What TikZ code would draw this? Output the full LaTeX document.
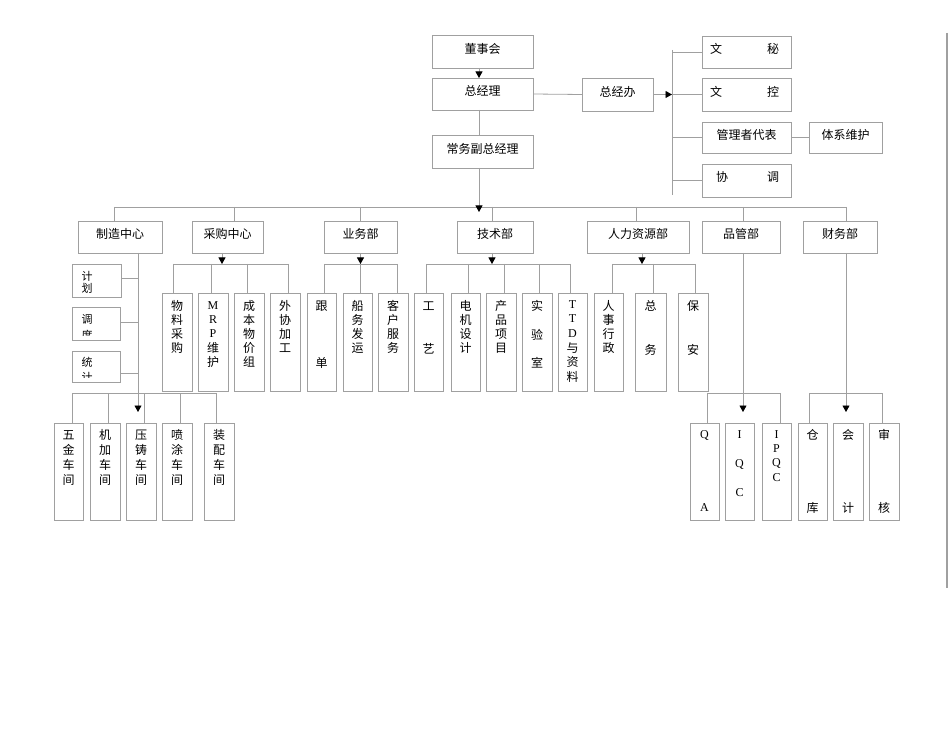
\documentclass[tikz,border=0pt]{standalone}
\usepackage{fontspec}
\setmainfont{Liberation Serif}
\newfontfamily\cjk{Noto Sans CJK SC}
\usetikzlibrary{arrows.meta}
\definecolor{ln}{RGB}{160,160,160}
\newcommand\mkbox[5]{\node[box,minimum width={#4-#2},minimum height={#5-#3}] (#1) at ({(#2+#4)/2},{(#3+#5)/2}) {};}
\newcommand\mkboxl[6]{\mkbox{#1}{#2}{#3}{#4}{#5}\node[lbl] (#1-t) at ([yshift=3pt]#1.center) {#6};}
\newcommand\chs[3]{\foreach \yy/\chr [count=\cI] in {#3} {\node[ch] (#1-c\cI) at (#2,\yy) {\chr};}}
\newcommand\drop[3]{\coordinate (d-#1) at (#2,#3); \draw[conn] (d-#1) -- (d-#1 |- #1.north);}
\begin{document}
\begin{tikzpicture}[x=1pt,y=-1pt,
 box/.style={draw=ln,line width=0.8pt,inner sep=0pt,outer sep=0pt},
 lbl/.style={font=\cjk\fontsize{12}{14}\selectfont,inner sep=0pt},
 ch/.style={font=\cjk\fontsize{12}{12}\selectfont,inner sep=0pt},
 sch/.style={font=\cjk\fontsize{11}{11}\selectfont,inner sep=0pt},
 conn/.style={draw=ln,line width=0.8pt},
 arr/.style={conn,-{Triangle[width=7pt,length=6.5pt,black]}},
]
\path[fill=white] (0,0) rectangle (950,735);
\useasboundingbox (0,0) rectangle (950,735);

% ---- top level
\mkboxl{dsh}{432}{35}{533}{68}{董事会}
\mkboxl{zjl}{432}{78}{533}{110}{总经理}
\mkboxl{cwf}{432}{135}{533}{168}{常务副总经理}
\mkboxl{zjb}{582}{78}{653}{111}{总经办}
\mkbox{wm}{702}{36}{791}{68}
\node[ch] (wm-a) at (716,49) {文}; \node[ch] (wm-b) at (773,49) {秘};
\mkbox{wk}{702}{78}{791}{111}
\node[ch] (wk-a) at (716,92) {文}; \node[ch] (wk-b) at (773,92) {控};
\mkboxl{gld}{702}{122}{791}{153}{管理者代表}
\mkboxl{txw}{809}{122}{882}{153}{体系维护}
\mkbox{xt}{702}{164}{791}{197}
\node[ch] (xt-a) at (722,177) {协}; \node[ch] (xt-b) at (773,177) {调};

\draw[arr] ([xshift=-3.5pt]dsh.south) -- ([xshift=-3.5pt]zjl.north);
\draw[conn] ([xshift=-3.5pt]zjl.south) -- ([xshift=-3.5pt]cwf.north);
\draw[conn] (zjl.east) -- (zjb.west);
\coordinate (rtop) at (672,50);
\coordinate (rbot) at (672,195);
\draw[conn] (rtop) -- (rbot);
\draw[arr] (zjb.east) -- (zjb.east -| rtop);
\draw[conn] (wm.west -| rtop) -- (wm.west);
\draw[conn] (wk.west -| rtop) -- (wk.west);
\draw[conn] (gld.west -| rtop) -- (gld.west);
\draw[conn] (xt.west -| rtop) -- (xt.west);
\draw[conn] (gld.east) -- (txw.west);

% ---- level 2
\mkboxl{zz}{78}{221}{162}{253}{制造中心}
\mkboxl{cg}{192}{221}{263}{253}{采购中心}
\mkboxl{yw}{324}{221}{397}{253}{业务部}
\mkboxl{js}{457}{221}{533}{253}{技术部}
\mkboxl{rl}{587}{221}{689}{253}{人力资源部}
\mkboxl{pg}{702}{221}{780}{253}{品管部}
\mkboxl{cw}{803}{221}{877}{253}{财务部}

\coordinate (bL) at (114,207);
\coordinate (bR) at (846,207);
\coordinate (bTip) at (479,212);
\draw[conn] (bL) -- (bR);
\draw[arr] ([xshift=-3.5pt]cwf.south) -- (bTip);
\drop{zz}{114}{207}
\drop{cg}{234}{207}
\drop{yw}{360}{207}
\drop{js}{492}{207}
\drop{rl}{636}{207}
\drop{pg}{743}{207}
\drop{cw}{846}{207}

% ---- level 3 boxes (row at 293)
\mkbox{wlcg}{162}{293}{192}{391}
\chs{wlcg}{177}{306/物,320/料,334/采,348/购}
\mkbox{mrp}{198}{293}{228}{391}
\chs{mrp}{213}{306/{\rmfamily M},320/{\rmfamily R},334/{\rmfamily P},348/维,362/护}
\mkbox{cbwj}{234}{293}{264}{391}
\chs{cbwj}{249}{306/成,320/本,334/物,348/价,362/组}
\mkbox{wxjg}{270}{293}{300}{391}
\chs{wxjg}{285}{306/外,320/协,334/加,348/工}
\mkbox{gd}{307}{293}{336}{391}
\chs{gd}{321.5}{306/跟,363/单}
\mkbox{cwfy}{343}{293}{372}{391}
\chs{cwfy}{357.5}{306/船,320/务,334/发,348/运}
\mkbox{khfw}{378}{293}{408}{391}
\chs{khfw}{393}{306/客,320/户,334/服,348/务}
\mkbox{gy}{414}{293}{443}{391}
\chs{gy}{428.5}{306/工,349/艺}
\mkbox{djsj}{451}{293}{480}{391}
\chs{djsj}{465.5}{306/电,320/机,334/设,348/计}
\mkbox{cpxm}{486}{293}{516}{391}
\chs{cpxm}{501}{306/产,320/品,334/项,348/目}
\mkbox{syz}{522}{293}{552}{391}
\chs{syz}{537}{306/实,335/验,363/室}
\mkbox{ttd}{558}{293}{587}{391}
\chs{ttd}{572.5}{305/{\rmfamily T},319/{\rmfamily T},334/{\rmfamily D},348/与,362/资,377/料}
\mkbox{rsxz}{594}{293}{623}{391}
\chs{rsxz}{608.5}{306/人,320/事,334/行,348/政}
\mkbox{zw}{635}{293}{666}{391}
\chs{zw}{650.5}{306/总,350/务}
\mkbox{ba}{678}{293}{708}{391}
\chs{ba}{693}{306/保,350/安}

% level 3 buses and arrows
\coordinate (cgL) at (173,264); \coordinate (cgR) at (288,264);
\draw[conn] (cgL) -- (cgR);
\draw[arr] ([xshift=-5.5pt]cg.south) -- ([xshift=-5.5pt]cg.south |- cgL);
\drop{wlcg}{173}{264} \drop{mrp}{211}{264} \drop{cbwj}{247}{264} \drop{wxjg}{288}{264}

\coordinate (ywL) at (324,264); \coordinate (ywR) at (397,264);
\draw[conn] (ywL) -- (ywR);
\draw[arr] (yw.south) -- (yw.south |- ywL);
\drop{gd}{324}{264} \drop{cwfy}{360}{264} \drop{khfw}{397}{264}

\coordinate (jsL) at (426,264); \coordinate (jsR) at (570,264);
\draw[conn] (jsL) -- (jsR);
\draw[arr] ([xshift=-3pt]js.south) -- ([xshift=-3pt]js.south |- jsL);
\drop{gy}{426}{264} \drop{djsj}{468}{264} \drop{cpxm}{504}{264} \drop{syz}{539}{264} \drop{ttd}{570}{264}

\coordinate (rlL) at (612,264); \coordinate (rlR) at (695,264);
\draw[conn] (rlL) -- (rlR);
\draw[arr] ([xshift=4pt]rl.south) -- ([xshift=4pt]rl.south |- rlL);
\drop{rsxz}{612}{264} \drop{zw}{653}{264} \drop{ba}{695}{264}

% ---- 制造中心 side boxes
\mkbox{jh}{72}{264}{121}{297}
\node[sch] (jh-a) at (87,276) {计}; \node[sch] (jh-b) at (87,288) {划};
\mkbox{dd}{72}{307}{120}{340}
\mkbox{tj}{72}{351}{120}{382}
\begin{scope}
\clip (dd.north west) rectangle ([yshift=5pt]dd.south east);
\node[sch] (dd-a) at (87,319) {调}; \node[sch] (dd-b) at (87,335) {度};
\end{scope}
\begin{scope}
\clip (tj.north west) rectangle ([yshift=5pt]tj.south east);
\node[sch] (tj-a) at (87,362) {统}; \node[sch] (tj-b) at (87,377) {计};
\end{scope}
\coordinate (zzTip) at (138,412);
\draw[arr] ([xshift=18pt]zz.south) -- (zzTip);
\draw[conn] ([yshift=2.5pt]jh.east) -- ([yshift=2.5pt]jh.east -| zzTip);
\draw[conn] ([yshift=1.5pt]dd.east) -- ([yshift=1.5pt]dd.east -| zzTip);
\draw[conn] ([yshift=-6.5pt]tj.east) -- ([yshift=-6.5pt]tj.east -| zzTip);

% ---- bottom row
\mkbox{wj}{54}{423}{83}{520}
\chs{wj}{68.5}{435/五,450/金,465/车,480/间}
\mkbox{jj}{90}{423}{120}{520}
\chs{jj}{105}{435/机,450/加,465/车,480/间}
\mkbox{yz}{126}{423}{156}{520}
\chs{yz}{141}{435/压,450/铸,465/车,480/间}
\mkbox{pt}{162}{423}{192}{520}
\chs{pt}{177}{435/喷,450/涂,465/车,480/间}
\mkbox{zp}{204}{423}{234}{520}
\chs{zp}{219}{435/装,450/配,465/车,480/间}
\coordinate (zbL) at (72,393); \coordinate (zbR) at (216,393);
\draw[conn] (zbL) -- (zbR);
\drop{wj}{72}{393} \drop{jj}{108}{393} \drop{yz}{144}{393} \drop{pt}{180}{393} \drop{zp}{216}{393}

\mkbox{qa}{690}{423}{719}{520}
\chs{qa}{704.5}{435/{\rmfamily Q},508/{\rmfamily A}}
\mkbox{iqc}{725}{423}{754}{520}
\chs{iqc}{739.5}{435/{\rmfamily I},464/{\rmfamily Q},493/{\rmfamily C}}
\mkbox{ipqc}{762}{423}{791}{520}
\chs{ipqc}{776.5}{435/{\rmfamily I},449/{\rmfamily P},463/{\rmfamily Q},478/{\rmfamily C}}
\coordinate (pgTip) at (743,412);
\draw[arr] ([xshift=2pt]pg.south) -- (pgTip);
\coordinate (pbL) at (707,393); \coordinate (pbR) at (780,393);
\draw[conn] (pbL) -- (pbR);
\drop{qa}{707}{393} \drop{ipqc}{780}{393}

\mkbox{ck}{798}{423}{827}{520}
\chs{ck}{812.5}{435/仓,508/库}
\mkbox{kj}{833}{423}{863}{520}
\chs{kj}{848}{435/会,508/计}
\mkbox{sh}{869}{423}{899}{520}
\chs{sh}{884}{435/审,508/核}
\coordinate (cwTip) at (846,412);
\draw[arr] ([xshift=6pt]cw.south) -- (cwTip);
\coordinate (fbL) at (809,393); \coordinate (fbR) at (882,393);
\draw[conn] (fbL) -- (fbR);
\drop{ck}{809}{393} \drop{sh}{882}{393}

% ---- right page edge line
\coordinate (eT) at (947,33); \coordinate (eB) at (947,588);
\draw[draw=ln,line width=1.5pt] (eT) -- (eB);
\end{tikzpicture}
\end{document}
